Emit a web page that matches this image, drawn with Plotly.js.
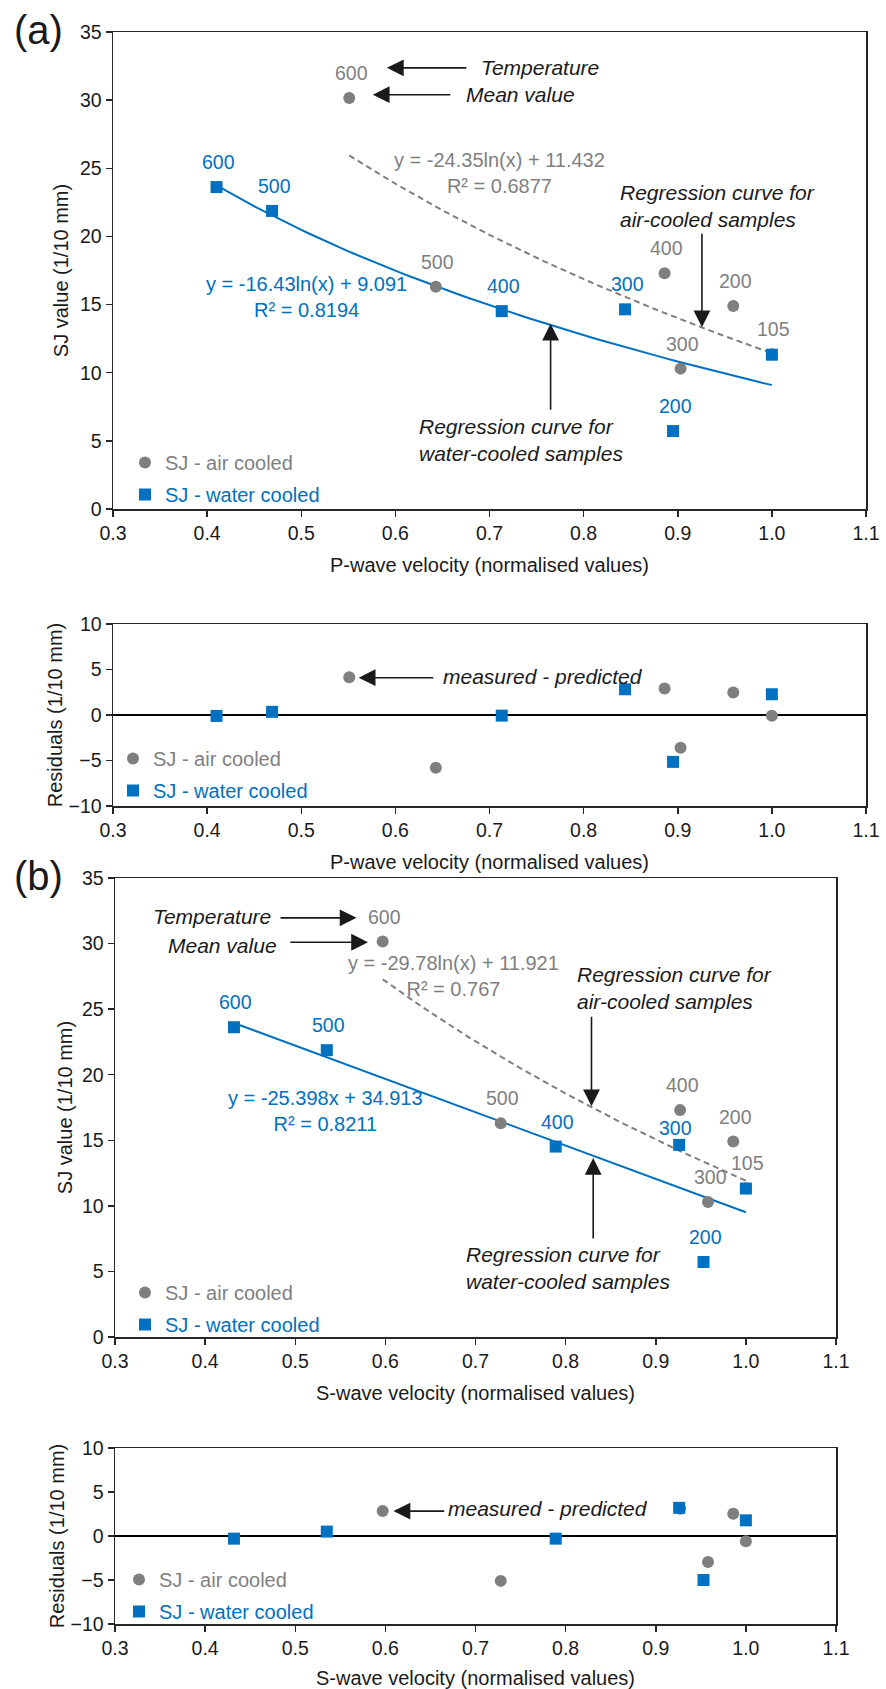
<!DOCTYPE html>
<html><head><meta charset="utf-8">
<script src="https://cdn.plot.ly/plotly-3.0.1.min.js"></script>
<style>html,body{margin:0;padding:0;background:#fff}#chart{width:886px;height:1689px}</style>
</head><body><div id="chart"></div>
<script>
// ---------------- data ----------------
const tempLabels = ['600', '500', '400', '300', '200', '105'];
const sjAir   = [30.15, 16.3, 17.3, 10.3, 14.9, 11.35];
const sjWater = [23.62, 21.87, 14.52, 14.65, 5.72, 11.32];
const vpAir   = [0.551, 0.643, 0.886, 0.903, 0.959, 1.0];
const vpWater = [0.410, 0.469, 0.713, 0.844, 0.895, 1.0];
const vsAir   = [0.597, 0.728, 0.927, 0.958, 0.986, 1.0];
const vsWater = [0.432, 0.535, 0.789, 0.926, 0.953, 1.0];
const resPAir   = [4.15, -5.8, 2.9, -3.6, 2.46, -0.07];
const resPWater = [-0.1, 0.35, -0.07, 2.83, -5.15, 2.28];
const resSAir   = [2.83, -5.1, 3.1, -2.95, 2.52, -0.6];
const resSWater = [-0.3, 0.5, -0.3, 3.2, -5.0, 1.78];
// regression coefficients shown on the chart
const fitPAir   = [-24.35, 11.432];   // y = a ln(x) + b
const fitPWater = [-16.43, 9.091];    // y = a ln(x) + b
const fitSAir   = [-29.78, 11.921];   // y = a ln(x) + b
const fitSWater = [-25.398, 34.913];  // y = a x + b
const xTicks = [0.3, 0.4, 0.5, 0.6, 0.7, 0.8, 0.9, 1.0, 1.1];

// ---------------- style ----------------
const GRAY = '#7f7f7f', BLUE = '#0070c0', INK = '#1a1a1a', AX = '#262626';
const FONT = 'Liberation Sans, Arial, Helvetica, sans-serif';
const W = 886, H = 1689;
const px = v => v / W, py = v => 1 - v / H;

function trend(xs, coef, kind) {
  const lo = Math.min(...xs), hi = Math.max(...xs), n = 80, X = [], Y = [];
  for (let i = 0; i <= n; i++) {
    const x = lo + (hi - lo) * i / n;
    X.push(x);
    Y.push(kind === 'ln' ? coef[0] * Math.log(x) + coef[1] : coef[0] * x + coef[1]);
  }
  return {X, Y};
}

const traces = [];
function addPanel(xa, ya, xsAir, ysAir, xsW, ysW, leg, fits) {
  if (fits) {
    const ta = trend(xsAir, fits[0], fits[2]);
    const tw = trend(xsW, fits[1], fits[3]);
    traces.push({x: ta.X, y: ta.Y, xaxis: xa, yaxis: ya, mode: 'lines', showlegend: false, hoverinfo: 'skip',
      line: {color: GRAY, width: 2, dash: '6px,4px'}});
    traces.push({x: tw.X, y: tw.Y, xaxis: xa, yaxis: ya, mode: 'lines', showlegend: false, hoverinfo: 'skip',
      line: {color: BLUE, width: 2}});
  }
  traces.push({x: xsAir, y: ysAir, xaxis: xa, yaxis: ya, mode: 'markers', legend: leg, legendgroup: leg + 'a',
    name: '<span style="color:' + GRAY + '">SJ - air cooled</span>',
    marker: {symbol: 'circle', size: 12, color: GRAY}});
  traces.push({x: xsW, y: ysW, xaxis: xa, yaxis: ya, mode: 'markers', legend: leg, legendgroup: leg + 'w',
    name: '<span style="color:' + BLUE + '">SJ - water cooled</span>',
    marker: {symbol: 'square', size: 12, color: BLUE}});
}
addPanel('x', 'y', vpAir, sjAir, vpWater, sjWater, 'legend', [fitPAir, fitPWater, 'ln', 'ln']);
addPanel('x2', 'y2', vpAir, resPAir, vpWater, resPWater, 'legend2', null);
addPanel('x3', 'y3', vsAir, sjAir, vsWater, sjWater, 'legend3', [fitSAir, fitSWater, 'ln', 'lin']);
addPanel('x4', 'y4', vsAir, resSAir, vsWater, resSWater, 'legend4', null);

// ---------------- axes ----------------
const tickFont = {family: FONT, size: 19.5, color: INK};
const titleFont = {family: FONT, size: 20, color: INK};
function xAxis(dom, anchor, title) {
  return {domain: dom, anchor: anchor, range: [0.3, 1.1], tickvals: xTicks, tickformat: '.1f',
    showline: true, mirror: true, linecolor: AX, linewidth: 1.5, ticks: 'outside', ticklen: 6,
    tickwidth: 1.5, tickcolor: AX, showgrid: false, zeroline: false, tickfont: tickFont,
    title: {text: title, font: titleFont, standoff: 15}};
}
function yAxis(dom, anchor, range, title, zero, standoff) {
  return {domain: dom, anchor: anchor, range: range, dtick: 5, tick0: 0,
    showline: true, mirror: true, linecolor: AX, linewidth: 1.5, ticks: 'outside', ticklen: 6,
    tickwidth: 1.5, tickcolor: AX, showgrid: false, zeroline: !!zero, zerolinecolor: '#000',
    zerolinewidth: 1.5, tickfont: tickFont, title: {text: title, font: titleFont, standoff: standoff}};
}
const dxA = [px(113), px(866)], dxB = [px(115), px(836)];

// ---------------- annotations ----------------
const ann = [];
function labels(xr, yr, xs, ys, n, color, special) {
  for (let i = 0; i < n; i++) {
    const s = (special && special[i]) || [2, 25];
    ann.push({xref: xr, yref: yr, x: xs[i], y: ys[i], text: tempLabels[i], showarrow: false,
      xanchor: 'center', yanchor: 'middle',
      xshift: s[0], yshift: s[1], font: {family: FONT, size: 19.5, color: color}});
  }
}
labels('x', 'y', vpAir, sjAir, 6, GRAY);
labels('x', 'y', vpWater, sjWater, 5, BLUE);
labels('x3', 'y3', vsAir, sjAir, 6, GRAY);
labels('x3', 'y3', vsWater, sjWater, 5, BLUE, {3: [-4, 17]});

function txt(xr, yr, x, y, t, opt) {
  ann.push(Object.assign({xref: xr, yref: yr, x: x, y: y, text: t, showarrow: false,
    xanchor: 'center', yanchor: 'middle',
    font: {family: FONT, size: 21, color: INK}}, opt || {}));
}
function arrow(xr, yr, x0, y0, x1, y1) {
  ann.push({xref: xr, yref: yr, axref: xr, ayref: yr, x: x1, y: y1, ax: x0, ay: y0, text: '',
    showarrow: true, arrowhead: 2, arrowsize: 2.1, arrowwidth: 1.6, arrowcolor: INK});
}
const it = s => '<i>' + s + '</i>';
// panel (a)
txt('x', 'y', 0.754, 32.37, it('Temperature'));
txt('x', 'y', 0.733, 30.4, it('Mean value'));
arrow('x', 'y', 0.677, 32.37, 0.591, 32.37);
arrow('x', 'y', 0.660, 30.4, 0.576, 30.4);
txt('x', 'y', 0.711, 24.67, 'y = -24.35ln(x) + 11.432<br>R² = 0.6877', {font: {family: FONT, size: 20, color: GRAY}});
txt('x', 'y', 0.506, 15.58, 'y = -16.43ln(x) + 9.091<br>R² = 0.8194', {font: {family: FONT, size: 20, color: BLUE}});
txt('x', 'y', 0.837, 22.24, it('Regression curve for<br>air-cooled samples'), {xanchor: 'left', align: 'left'});
txt('x', 'y', 0.6228, 5.07, it('Regression curve for<br>water-cooled samples'), {xanchor: 'left', align: 'left'});
arrow('x', 'y', 0.9257, 20.3, 0.9257, 13.34);
arrow('x', 'y', 0.7649, 7.17, 0.7649, 13.6);
txt('x2', 'y2', 0.648, 4.23, it('measured - predicted'), {xanchor: 'left'});
arrow('x2', 'y2', 0.6419, 4.1, 0.561, 4.1);
// panel (b)
txt('x3', 'y3', 0.408, 32.06, it('Temperature'));
txt('x3', 'y3', 0.419, 29.83, it('Mean value'));
arrow('x3', 'y3', 0.482, 31.96, 0.568, 31.96);
arrow('x3', 'y3', 0.4928, 30.1, 0.5807, 30.1);
txt('x3', 'y3', 0.6755, 27.55, 'y = -29.78ln(x) + 11.921<br>R² = 0.767', {font: {family: FONT, size: 20, color: GRAY}});
txt('x3', 'y3', 0.534, 17.26, 'y = -25.398x + 34.913<br>R² = 0.8211', {font: {family: FONT, size: 20, color: BLUE}});
txt('x3', 'y3', 0.8105, 26.65, it('Regression curve for<br>air-cooled samples'), {xanchor: 'left', align: 'left'});
txt('x3', 'y3', 0.6874, 5.27, it('Regression curve for<br>water-cooled samples'), {xanchor: 'left', align: 'left'});
arrow('x3', 'y3', 0.8287, 24.53, 0.8287, 17.6);
arrow('x3', 'y3', 0.8306, 7.4, 0.8306, 13.65);
txt('x4', 'y4', 0.667, 3.1, it('measured - predicted'), {xanchor: 'left'});
arrow('x4', 'y4', 0.667, 2.83, 0.609, 2.83);
// panel letters
ann.push({xref: 'paper', yref: 'paper', x: px(38), y: py(30), text: '(a)', showarrow: false,
  xanchor: 'center', yanchor: 'middle', font: {family: FONT, size: 40, color: INK}});
ann.push({xref: 'paper', yref: 'paper', x: px(38), y: py(876), text: '(b)', showarrow: false,
  xanchor: 'center', yanchor: 'middle', font: {family: FONT, size: 40, color: INK}});

function legend(xp, yp) {
  return {x: px(xp), y: py(yp), xanchor: 'left', yanchor: 'top', bgcolor: 'rgba(0,0,0,0)',
    borderwidth: 0, traceorder: 'grouped', tracegroupgap: 3,
    font: {family: FONT, size: 20, color: INK}};
}

const layout = {
  width: W, height: H, margin: {l: 0, r: 0, t: 0, b: 0},
  paper_bgcolor: '#fff', plot_bgcolor: '#fff', showlegend: true,
  xaxis: xAxis(dxA, 'y', 'P-wave velocity (normalised values)'),
  yaxis: yAxis([py(509), py(32)], 'x', [0, 35], 'SJ value (1/10 mm)', false, 6),
  xaxis2: xAxis(dxA, 'y2', 'P-wave velocity (normalised values)'),
  yaxis2: yAxis([py(806), py(624)], 'x2', [-10, 10], 'Residuals (1/10 mm)', true, 0),
  xaxis3: xAxis(dxB, 'y3', 'S-wave velocity (normalised values)'),
  yaxis3: yAxis([py(1337), py(878)], 'x3', [0, 35], 'SJ value (1/10 mm)', false, 4),
  xaxis4: xAxis(dxB, 'y4', 'S-wave velocity (normalised values)'),
  yaxis4: yAxis([py(1624), py(1448)], 'x4', [-10, 10], 'Residuals (1/10 mm)', true, 0),
  legend: legend(125, 443),
  legend2: legend(113, 739),
  legend3: legend(125, 1273),
  legend4: legend(119, 1560),
  annotations: ann
};
Plotly.newPlot('chart', traces, layout, {displayModeBar: false, staticPlot: true});
</script></body></html>
